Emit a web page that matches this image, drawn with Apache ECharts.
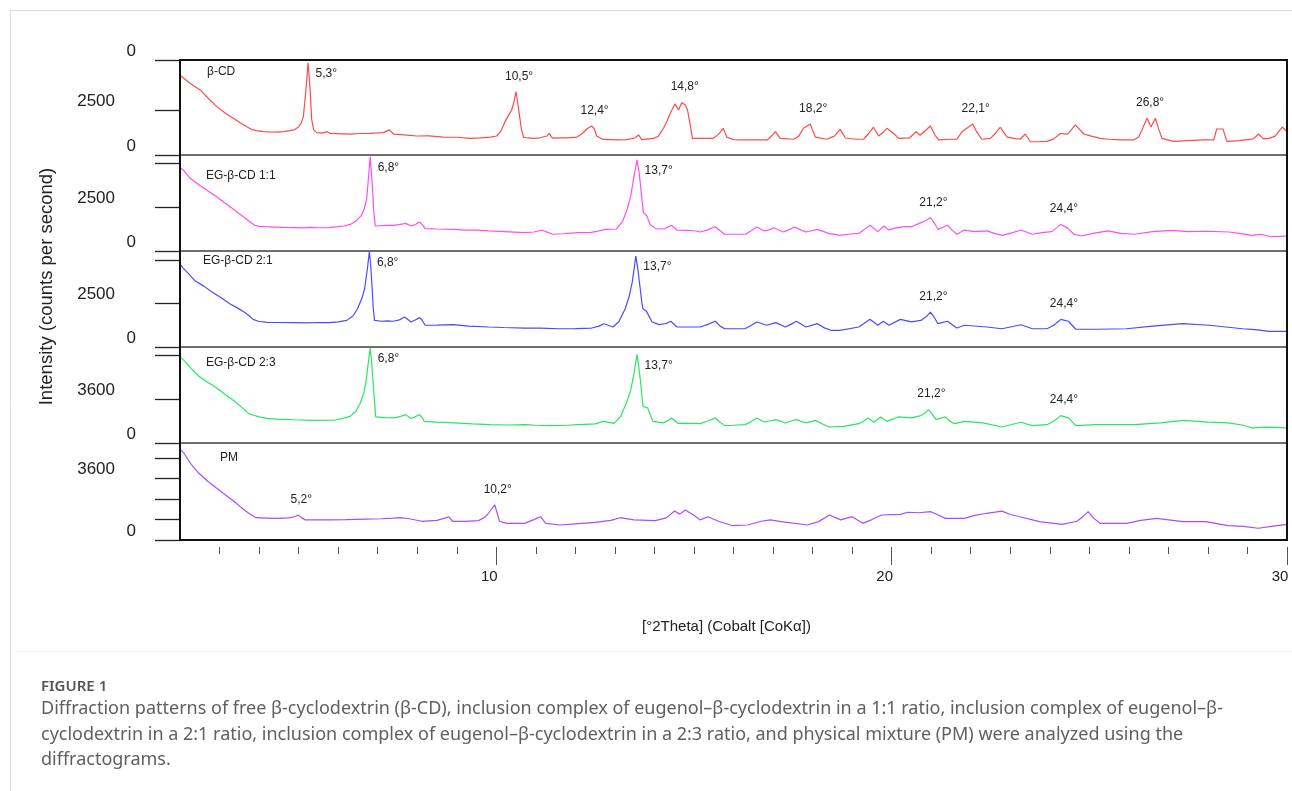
<!DOCTYPE html>
<html>
<head>
<meta charset="utf-8">
<script src="https://cdn.jsdelivr.net/npm/echarts@6/dist/echarts.min.js"></script>
<style>
  html, body { margin: 0; padding: 0; background: #fff; }
  #chart { width: 1292px; height: 791px; }
</style>
</head>
<body>
<div id="chart"></div>
<script>
  // 2θ (deg) vs intensity (counts per second)
  const betaCd = [
    [2.02, 4420], [2.25, 4000], [2.51, 3630], [2.72, 3150], [2.93, 2700], [3.15, 2330], [3.35, 2050],
    [3.52, 1800], [3.69, 1580], [3.82, 1420], [3.94, 1360], [4.10, 1300], [4.25, 1290], [4.45, 1280],
    [4.62, 1300], [4.78, 1360], [4.90, 1420], [4.99, 1550], [5.06, 1750], [5.12, 2140], [5.18, 3500],
    [5.24, 5150], [5.29, 3700], [5.33, 2000], [5.38, 1400], [5.46, 1250], [5.60, 1220], [5.72, 1300],
    [5.80, 1200], [6.00, 1190], [6.30, 1170], [6.55, 1200], [6.81, 1210], [7.00, 1230], [7.14, 1250],
    [7.30, 1400], [7.40, 1170], [7.60, 1140], [7.99, 1060], [8.30, 1070], [8.66, 1000], [9.00, 990],
    [9.34, 930], [9.60, 950], [9.85, 1000], [10.01, 1060], [10.12, 1350], [10.22, 1860], [10.32, 2250],
    [10.39, 2510], [10.45, 3000], [10.50, 3530], [10.55, 2800], [10.59, 2140], [10.64, 1400], [10.69, 990],
    [10.80, 950], [10.94, 930], [11.10, 960], [11.28, 1060], [11.34, 1210], [11.42, 940], [11.60, 950],
    [11.80, 960], [12.04, 1000], [12.18, 1200], [12.29, 1450], [12.41, 1620], [12.48, 1450], [12.54, 1060],
    [12.70, 870], [13.05, 840], [13.30, 860], [13.50, 950], [13.60, 1120], [13.68, 860], [13.97, 930],
    [14.10, 1050], [14.23, 1490], [14.32, 1900], [14.40, 2330], [14.52, 2850], [14.61, 2510], [14.69, 2920],
    [14.78, 2800], [14.84, 2480], [14.88, 2510], [14.92, 1500], [14.96, 930], [15.20, 930], [15.49, 930],
    [15.62, 1150], [15.74, 1490], [15.83, 1000], [16.00, 860], [16.17, 840], [16.50, 840], [16.85, 840],
    [16.98, 1100], [17.06, 1300], [17.18, 930], [17.52, 880], [17.65, 1050], [17.77, 1490], [17.94, 1730],
    [18.07, 1000], [18.36, 880], [18.55, 1050], [18.70, 1430], [18.83, 950], [19.10, 880], [19.29, 880],
    [19.42, 1200], [19.54, 1550], [19.67, 1060], [19.80, 1300], [19.88, 1490], [20.05, 1200], [20.18, 930],
    [20.22, 870], [20.45, 950], [20.62, 1300], [20.72, 1100], [20.85, 1350], [20.98, 1620], [21.10, 1100],
    [21.19, 840], [21.45, 880], [21.65, 880], [21.78, 1300], [22.05, 1730], [22.15, 1300], [22.28, 880],
    [22.50, 930], [22.62, 1200], [22.75, 1550], [22.92, 1000], [23.10, 930], [23.25, 880], [23.38, 1170],
    [23.51, 740], [23.70, 740], [23.93, 760], [24.10, 900], [24.27, 1200], [24.45, 1170], [24.65, 1680],
    [24.86, 1170], [25.05, 1050], [25.28, 930], [25.50, 880], [25.79, 840], [26.12, 840], [26.25, 1000],
    [26.33, 1400], [26.46, 2050], [26.56, 1560], [26.67, 2050], [26.76, 1400], [26.84, 930], [27.13, 760],
    [27.50, 800], [27.90, 840], [28.15, 840], [28.22, 1450], [28.27, 1560], [28.38, 1450], [28.48, 760],
    [28.80, 800], [28.99, 860], [29.15, 900], [29.28, 1170], [29.40, 900], [29.55, 930], [29.70, 1050],
    [29.88, 1560], [30.00, 1300]
  ];
  const eg11 = [
    [2.02, 4700], [2.08, 4600], [2.25, 4150], [2.46, 3790], [2.68, 3450], [2.90, 3120], [3.12, 2750],
    [3.35, 2370], [3.55, 2030], [3.71, 1760], [3.80, 1600], [3.89, 1460], [4.00, 1400], [4.16, 1380],
    [4.40, 1360], [4.60, 1340], [4.88, 1330], [5.10, 1310], [5.30, 1340], [5.50, 1320], [5.77, 1330],
    [6.00, 1380], [6.15, 1420], [6.31, 1510], [6.45, 1700], [6.58, 1990], [6.66, 2400], [6.72, 2930],
    [6.77, 4200], [6.81, 5360], [6.84, 4500], [6.87, 3500], [6.90, 2300], [6.94, 1420], [7.10, 1440],
    [7.25, 1460], [7.39, 1460], [7.55, 1500], [7.71, 1570], [7.84, 1420], [7.95, 1500], [8.06, 1650],
    [8.13, 1500], [8.20, 1270], [8.50, 1250], [8.91, 1230], [9.20, 1190], [9.50, 1180], [9.81, 1140],
    [10.20, 1100], [10.71, 1040], [10.95, 1080], [11.16, 1190], [11.30, 1060], [11.43, 950], [11.70, 980],
    [12.06, 1040], [12.40, 1060], [12.60, 1140], [12.77, 1230], [13.04, 1250], [13.20, 1700], [13.31, 2370],
    [13.40, 3100], [13.47, 4070], [13.56, 5170], [13.61, 4500], [13.65, 3690], [13.72, 2180], [13.81, 1990],
    [13.89, 1510], [14.03, 1270], [14.26, 1250], [14.35, 1380], [14.43, 1460], [14.57, 1190], [14.80, 1170],
    [15.00, 1150], [15.16, 1080], [15.35, 1200], [15.54, 1380], [15.66, 1150], [15.78, 950], [16.00, 950],
    [16.30, 950], [16.45, 1150], [16.59, 1360], [16.78, 1140], [16.90, 1200], [17.02, 1320], [17.26, 1080],
    [17.40, 1200], [17.54, 1360], [17.70, 1200], [17.83, 1080], [18.12, 1230], [18.41, 1000], [18.69, 890],
    [18.90, 950], [19.17, 1000], [19.30, 1200], [19.45, 1460], [19.65, 1100], [19.81, 1420], [19.93, 1200],
    [20.10, 1300], [20.31, 1380], [20.50, 1380], [20.70, 1570], [20.84, 1700], [20.98, 1890], [21.08, 1600],
    [21.17, 1230], [21.30, 1350], [21.41, 1460], [21.52, 1200], [21.65, 950], [21.84, 1190], [22.10, 1100],
    [22.41, 1140], [22.60, 1000], [22.79, 890], [23.00, 1000], [23.27, 1190], [23.56, 950], [23.80, 1040],
    [24.05, 1100], [24.28, 1510], [24.45, 1300], [24.61, 950], [24.80, 850], [25.10, 1000], [25.47, 1140],
    [25.80, 1000], [26.14, 950], [26.60, 1100], [27.09, 1170], [27.50, 1100], [28.00, 1120], [28.53, 1080],
    [28.80, 1000], [29.10, 890], [29.35, 950], [29.58, 810], [29.80, 830], [30.00, 850]
  ];
  const eg21 = [
    [2.02, 4700], [2.08, 4540], [2.22, 4200], [2.37, 3830], [2.60, 3500], [2.81, 3160], [3.05, 2820],
    [3.26, 2490], [3.45, 2250], [3.62, 2010], [3.75, 1800], [3.85, 1590], [3.98, 1480], [4.20, 1420],
    [4.50, 1410], [4.88, 1400], [5.20, 1390], [5.50, 1410], [5.77, 1400], [6.00, 1450], [6.22, 1530],
    [6.38, 1800], [6.49, 2200], [6.60, 2800], [6.67, 3350], [6.74, 4500], [6.79, 5500], [6.82, 4800],
    [6.85, 3740], [6.89, 2200], [6.92, 1530], [7.10, 1480], [7.25, 1500], [7.39, 1480], [7.55, 1560],
    [7.68, 1720], [7.78, 1550], [7.84, 1440], [7.95, 1550], [8.06, 1690], [8.12, 1550], [8.20, 1250],
    [8.50, 1260], [8.92, 1290], [9.30, 1200], [9.81, 1150], [10.20, 1120], [10.71, 1090], [11.10, 1080],
    [11.60, 1050], [12.00, 1060], [12.41, 1090], [12.60, 1200], [12.72, 1340], [12.95, 1150], [13.10, 1450],
    [13.26, 2200], [13.36, 2900], [13.44, 3740], [13.53, 5230], [13.58, 4500], [13.62, 3740], [13.68, 2600],
    [13.71, 2200], [13.80, 2050], [13.94, 1440], [14.12, 1290], [14.30, 1350], [14.41, 1480], [14.57, 1150],
    [14.90, 1150], [15.16, 1150], [15.35, 1300], [15.54, 1480], [15.66, 1200], [15.78, 1050], [16.05, 1050],
    [16.30, 1060], [16.45, 1250], [16.59, 1440], [16.84, 1250], [17.07, 1400], [17.31, 1150], [17.45, 1300],
    [17.59, 1480], [17.83, 1150], [18.12, 1340], [18.30, 1100], [18.46, 960], [18.69, 960], [19.17, 1150],
    [19.30, 1350], [19.45, 1590], [19.65, 1250], [19.79, 1480], [19.93, 1250], [20.22, 1590], [20.50, 1440],
    [20.74, 1530], [20.88, 1750], [20.98, 2010], [21.08, 1700], [21.17, 1340], [21.41, 1480], [21.55, 1250],
    [21.65, 1090], [21.84, 1250], [22.41, 1150], [22.79, 1050], [23.27, 1280], [23.56, 1050], [23.93, 1050],
    [24.10, 1250], [24.28, 1590], [24.47, 1480], [24.66, 1020], [25.18, 1020], [25.94, 1050], [26.60, 1200],
    [27.36, 1340], [28.03, 1250], [28.88, 1050], [29.20, 1000], [29.55, 900], [30.00, 900]
  ];
  const eg23 = [
    [2.02, 7000], [2.10, 6760], [2.28, 6100], [2.48, 5450], [2.70, 4970], [2.93, 4500], [3.15, 3950],
    [3.38, 3410], [3.55, 2950], [3.74, 2400], [3.88, 2250], [4.01, 2130], [4.20, 2020], [4.46, 1960],
    [4.90, 1900], [5.35, 1850], [5.89, 1860], [6.10, 1990], [6.30, 2180], [6.45, 2600], [6.56, 3270],
    [6.65, 4100], [6.70, 4910], [6.76, 6500], [6.81, 7770], [6.85, 6500], [6.88, 5180], [6.92, 3400],
    [6.95, 2130], [7.20, 2080], [7.42, 2050], [7.60, 2200], [7.71, 2320], [7.84, 2000], [7.95, 2150],
    [8.06, 2320], [8.12, 2100], [8.18, 1770], [8.50, 1700], [8.94, 1640], [9.40, 1560], [9.84, 1500],
    [10.30, 1470], [10.74, 1500], [11.00, 1450], [11.37, 1420], [11.80, 1450], [12.08, 1500], [12.50, 1560],
    [12.71, 1770], [12.98, 1600], [13.15, 2200], [13.29, 3270], [13.40, 4300], [13.47, 5450], [13.56, 7230],
    [13.60, 6300], [13.65, 5000], [13.71, 3000], [13.83, 2860], [13.96, 1770], [14.23, 1640], [14.35, 1850],
    [14.43, 2050], [14.60, 1600], [15.00, 1600], [15.16, 1580], [15.35, 1800], [15.54, 2050], [15.66, 1700],
    [15.78, 1420], [16.00, 1450], [16.30, 1500], [16.45, 1750], [16.59, 2050], [16.78, 1700], [16.90, 1800],
    [17.07, 1910], [17.31, 1640], [17.45, 1800], [17.59, 1910], [17.83, 1640], [18.07, 1850], [18.25, 1550],
    [18.41, 1310], [18.79, 1360], [19.17, 1580], [19.30, 1800], [19.40, 2050], [19.55, 1700], [19.72, 2130],
    [19.88, 1770], [20.17, 2130], [20.50, 2050], [20.74, 2240], [20.85, 2450], [20.93, 2730], [21.02, 2400],
    [21.12, 1910], [21.36, 2130], [21.48, 1750], [21.60, 1580], [21.84, 1770], [22.31, 1640], [22.79, 1310],
    [23.27, 1700], [23.55, 1420], [23.93, 1500], [24.10, 1800], [24.28, 2240], [24.47, 2050], [24.66, 1420],
    [25.18, 1500], [26.14, 1500], [26.80, 1650], [27.37, 1850], [28.00, 1700], [28.51, 1640], [28.90, 1450],
    [29.13, 1230], [29.47, 1300], [30.00, 1230]
  ];
  const pm = [
    [2.02, 5300], [2.10, 5100], [2.28, 4450], [2.48, 3920], [2.70, 3450], [2.93, 3040], [3.15, 2650],
    [3.38, 2250], [3.55, 1900], [3.74, 1570], [3.92, 1310], [4.20, 1290], [4.46, 1270], [4.75, 1300],
    [4.92, 1380], [4.99, 1470], [5.08, 1300], [5.17, 1180], [5.50, 1180], [5.80, 1180], [6.20, 1200],
    [6.69, 1230], [7.10, 1250], [7.40, 1280], [7.58, 1310], [7.80, 1250], [8.12, 1100], [8.50, 1150],
    [8.72, 1300], [8.79, 1370], [8.90, 1100], [9.20, 1100], [9.55, 1140], [9.72, 1350], [9.82, 1630],
    [9.96, 2060], [10.02, 1600], [10.08, 1100], [10.27, 980], [10.72, 980], [10.95, 1200], [11.12, 1370],
    [11.25, 980], [11.61, 880], [12.00, 950], [12.50, 1040], [12.90, 1150], [13.13, 1310], [13.48, 1180],
    [14.02, 1140], [14.30, 1300], [14.51, 1700], [14.64, 1520], [14.78, 1760], [15.00, 1450], [15.16, 1180],
    [15.35, 1370], [15.62, 1100], [15.98, 840], [16.36, 880], [16.70, 1100], [16.93, 1180], [17.20, 1080],
    [17.87, 880], [18.15, 1080], [18.43, 1470], [18.71, 1180], [19.00, 1370], [19.27, 980], [19.50, 1200],
    [19.75, 1470], [20.22, 1510], [20.41, 1630], [20.70, 1600], [20.98, 1670], [21.15, 1500], [21.36, 1270],
    [21.84, 1270], [22.10, 1450], [22.41, 1570], [22.79, 1700], [23.00, 1500], [23.27, 1350], [23.74, 1080],
    [24.31, 920], [24.69, 1100], [24.85, 1400], [24.97, 1670], [25.10, 1300], [25.27, 980], [25.94, 980],
    [26.30, 1150], [26.70, 1270], [27.37, 1080], [27.94, 1080], [28.51, 840], [28.90, 800], [29.27, 690],
    [29.60, 800], [30.00, 920]
  ];

  // annotated reflections [2θ, label]
  const betaCdPeaks = [[5.3, '5,3°'], [10.5, '10,5°'], [12.4, '12,4°'], [14.8, '14,8°'], [18.2, '18,2°'], [22.1, '22,1°'], [26.8, '26,8°']];
  const eg11Peaks = [[6.8, '6,8°'], [13.7, '13,7°'], [21.2, '21,2°'], [24.4, '24,4°']];
  const eg21Peaks = [[6.8, '6,8°'], [13.7, '13,7°'], [21.2, '21,2°'], [24.4, '24,4°']];
  const eg23Peaks = [[6.8, '6,8°'], [13.7, '13,7°'], [21.2, '21,2°'], [24.4, '24,4°']];
  const pmPeaks = [[5.2, '5,2°'], [10.2, '10,2°']];

  // y ticks per panel and the labels printed next to them
  const yTicksBeta = [0, 2500, 5300];
  const yLabelsBeta = ['0', '2500', '0'];
  const yTicks11 = [0, 2500, 5000];
  const yLabels11 = ['0', '2500', ''];
  const yTicks21 = [0, 2500, 5000];
  const yLabels21 = ['0', '2500', ''];
  const yTicks23 = [0, 3600, 7200];
  const yLabels23 = ['0', '3600', ''];
  const yTicksPm = [0, 1200, 2400, 3600, 4800];
  const yLabelsPm = ['0', '', '', '3600', ''];

  const xMinorTicks = [3, 4, 5, 6, 7, 8, 9, 11, 12, 13, 14, 15, 16, 17, 18, 19, 21, 22, 23, 24, 25, 26, 27, 28, 29];
  const xMajorTicks = [10, 20, 30];

  const panels = [
    { name: 'β-CD', data: betaCd, peaks: betaCdPeaks, ticks: yTicksBeta, labels: yLabelsBeta, max: 5300, color: '#ff4a4a' },
    { name: 'EG-β-CD 1:1', data: eg11, peaks: eg11Peaks, ticks: yTicks11, labels: yLabels11, max: 5450, color: '#ff4cf4' },
    { name: 'EG-β-CD 2:1', data: eg21, peaks: eg21Peaks, ticks: yTicks21, labels: yLabels21, max: 5520, color: '#4a4aff' },
    { name: 'EG-β-CD 2:3', data: eg23, peaks: eg23Peaks, ticks: yTicks23, labels: yLabels23, max: 7850, color: '#26e85e' },
    { name: 'PM', data: pm, peaks: pmPeaks, ticks: yTicksPm, labels: yLabelsPm, max: 5700, color: '#a94cff' }
  ]

  // layout of the stacked panels
  const plotLeft = 180
  const plotWidth = 1107
  const gridTops = [60, 155, 251, 347, 443]
  const gridHeights = [95, 96, 96, 96, 97]
  const nameOffsets = [[207, 12], [206, 21], [203, 10], [206, 16], [220, 15]]
  const font = '"Liberation Sans", Arial, sans-serif'
  const textColor = '#222'

  /** find the apex of a series near an annotated angle */
  const apexNear = (data, theta) => {
    let best = null
    data.forEach((d) => {
      if (Math.abs(d[0] - theta) <= 0.35 && (!best || d[1] > best[1])) best = d
    })
    return best
  }

  const peakMarks = (p) => ({
    symbol: 'circle',
    symbolSize: 1,
    itemStyle: { color: 'rgba(0,0,0,0)' },
    silent: true,
    data: p.peaks.map(([theta, text]) => {
      const apex = apexNear(p.data, theta)
      const high = apex[1] > p.max * 0.85
      return {
        coord: apex,
        label: high
          ? { show: true, formatter: text, position: 'right', distance: 7, offset: [0, 11] }
          : { show: true, formatter: text, position: 'top', distance: 9, offset: [3, 0] }
      }
    }),
    label: { fontSize: 12, fontFamily: font, color: textColor }
  })

  const labelRich = {
    n: { fontSize: 17, fontFamily: font, color: textColor, padding: [0, 0, 18, 0] },
    w: { fontSize: 17, fontFamily: font, color: textColor, padding: [0, 21, 18, 0] }
  }

  const chart = echarts.init(document.getElementById('chart'))
  chart.setOption({
    animation: false,
    backgroundColor: '#fff',
    grid: panels.map((p, i) => ({
      left: plotLeft,
      width: plotWidth,
      top: gridTops[i],
      height: gridHeights[i],
      show: true,
      borderColor: '#666',
      borderWidth: 1.5
    })),
    xAxis: [
      ...panels.map((p, i) => ({ gridIndex: i, type: 'value', min: 2, max: 30, show: false })),
      {
        gridIndex: 4,
        type: 'value',
        min: 2,
        max: 30,
        position: 'bottom',
        offset: 7,
        axisLine: { show: false },
        splitLine: { show: false },
        axisTick: { show: true, customValues: xMinorTicks, length: 7, lineStyle: { color: '#555', width: 1 } },
        axisLabel: { show: false }
      },
      {
        gridIndex: 4,
        type: 'value',
        min: 2,
        max: 30,
        position: 'bottom',
        offset: 7,
        axisLine: { show: false },
        splitLine: { show: false },
        axisTick: { show: true, customValues: xMajorTicks, length: 18, lineStyle: { color: '#555', width: 1 } },
        axisLabel: {
          customValues: xMajorTicks,
          margin: 22,
          fontSize: 15,
          fontFamily: font,
          color: textColor,
          padding: [0, 14, 0, 0]
        },
        name: '[°2Theta] (Cobalt [CoKα])',
        nameLocation: 'middle',
        nameGap: 72,
        nameTextStyle: { fontSize: 15, fontFamily: font, color: textColor, padding: [0, 14, 0, 0] }
      }
    ],
    yAxis: panels.map((p, i) => ({
      gridIndex: i,
      type: 'value',
      min: 0,
      max: p.max,
      position: 'left',
      axisLine: { show: false },
      splitLine: { show: false },
      axisTick: { show: true, inside: false, length: 25, customValues: p.ticks, lineStyle: { color: '#222', width: 1.3 } },
      axisLabel: {
        customValues: p.ticks.filter((t, k) => p.labels[k] !== ''),
        margin: 44,
        formatter: (v) => {
          const t = p.labels[p.ticks.indexOf(v)]
          return t.length > 1 ? '{w|' + t + '}' : '{n|' + t + '}'
        },
        rich: labelRich
      },
      name: i === 2 ? 'Intensity (counts per second)' : '',
      nameLocation: 'middle',
      nameGap: 124,
      nameTextStyle: { fontSize: 18.5, fontFamily: font, color: textColor, padding: [0, 0, 0, 25] }
    })),
    series: panels.map((p, i) => ({
      name: p.name,
      type: 'line',
      xAxisIndex: i,
      yAxisIndex: i,
      data: p.data,
      showSymbol: false,
      symbol: 'none',
      lineStyle: { color: p.color, width: 1.2 },
      markPoint: peakMarks(p)
    })),
    graphic: [
      // page frame
      { type: 'line', shape: { x1: 10.5, y1: 10, x2: 10.5, y2: 791 }, style: { stroke: '#dcdcdc', lineWidth: 1 } },
      { type: 'line', shape: { x1: 10, y1: 10.5, x2: 1292, y2: 10.5 }, style: { stroke: '#dcdcdc', lineWidth: 1 } },
      { type: 'line', shape: { x1: 16, y1: 651.5, x2: 1292, y2: 651.5 }, style: { stroke: '#f0f0f0', lineWidth: 1 } },
      // plot box
      {
        type: 'rect',
        z: 100,
        shape: { x: plotLeft, y: gridTops[0], width: plotWidth, height: gridTops[4] + gridHeights[4] - gridTops[0] },
        style: { fill: 'none', stroke: '#111', lineWidth: 2 }
      },
      // panel names
      ...panels.map((p, i) => ({
        type: 'text',
        z: 100,
        style: {
          text: p.name,
          x: nameOffsets[i][0],
          y: gridTops[i] + nameOffsets[i][1],
          textVerticalAlign: 'middle',
          font: '12px ' + font,
          fill: textColor
        }
      })),
      // caption
      {
        type: 'text',
        style: { text: 'FIGURE 1', x: 41, y: 687, textVerticalAlign: 'middle', font: '600 15px "Noto Sans", sans-serif', fill: '#555' }
      },
      {
        type: 'text',
        style: {
          text: 'Diffraction patterns of free β-cyclodextrin (β-CD), inclusion complex of eugenol–β-cyclodextrin in a 1:1 ratio, inclusion complex of eugenol–β-',
          x: 41, y: 709, textVerticalAlign: 'middle', font: '18px "Noto Sans", sans-serif', fill: '#5f5f5f'
        }
      },
      {
        type: 'text',
        style: {
          text: 'cyclodextrin in a 2:1 ratio, inclusion complex of eugenol–β-cyclodextrin in a 2:3 ratio, and physical mixture (PM) were analyzed using the',
          x: 41, y: 735, textVerticalAlign: 'middle', font: '18px "Noto Sans", sans-serif', fill: '#5f5f5f'
        }
      },
      {
        type: 'text',
        style: { text: 'diffractograms.', x: 41, y: 760, textVerticalAlign: 'middle', font: '18px "Noto Sans", sans-serif', fill: '#5f5f5f' }
      }
    ]
  })
</script>
</body>
</html>
